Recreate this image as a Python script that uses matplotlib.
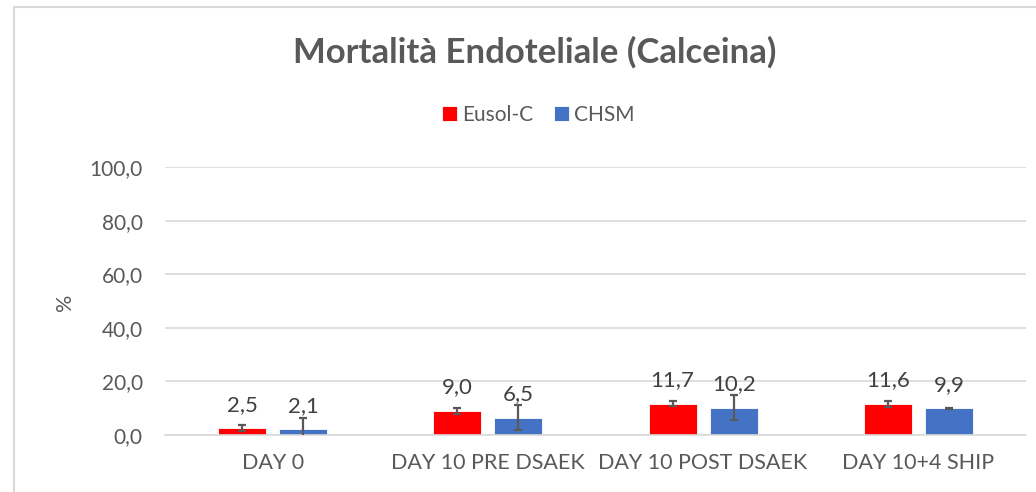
import matplotlib.pyplot as plt
import numpy as np
from matplotlib.patches import Rectangle

plt.rcParams['font.family'] = ['Lato', 'DejaVu Sans']

categories = ["DAY 0", "DAY 10 PRE DSAEK", "DAY 10 POST DSAEK", "DAY 10+4 SHIP"]
series_names = ["Eusol-C", "CHSM"]
eusol = [2.5, 9.0, 11.7, 11.6]
eusol_err = [1.1, 1.0, 1.05, 1.0]
chsm = [2.1, 6.5, 10.2, 9.9]
chsm_err = [4.4, 4.6, 4.6, 0.2]
yticks = [0, 20, 40, 60, 80, 100]

colors = ["#FF0000", "#4472C4"]
text_col = "#595959"
grid_col = "#D9D9D9"

W, H = 1036, 492
fig = plt.figure(figsize=(W / 100, H / 100), dpi=100)

# outer chart frame
fig.patches.append(Rectangle((14 / W, -0.05), 1.2, 1 - 7 / H + 0.05,
                             transform=fig.transFigure, fill=False,
                             edgecolor=grid_col, linewidth=1.5))

ax = fig.add_axes([165 / W, 1 - 435 / H, (1026 - 165) / W, (435 - 167) / H])

x = np.arange(len(categories))
bw = 0.223
off = 0.142
for vals, errs, col, sgn, name in [(eusol, eusol_err, colors[0], -1, series_names[0]),
                                   (chsm, chsm_err, colors[1], 1, series_names[1])]:
    xs = x + sgn * off
    ax.bar(xs, vals, width=bw, color=col, edgecolor="white", linewidth=0.6,
           label=name, zorder=2)
    ax.errorbar(xs, vals, yerr=errs, fmt="none", ecolor="#595959",
                elinewidth=1.6, capsize=3, capthick=1.6, zorder=3)
    for xi, v in zip(xs, vals):
        ax.annotate(f"{v:.1f}".replace(".", ","), (xi, v), xytext=(0, 17),
                    textcoords="offset points", ha="center", va="center",
                    fontsize=16, color="#404040", zorder=4)

ax.set_xlim(-0.5, len(categories) - 0.5)
ax.set_ylim(0, 100)
ax.set_yticks(yticks)
ax.set_yticklabels([f"{t:.1f}".replace(".", ",") for t in yticks])
ax.set_xticks(x)
ax.set_xticklabels(categories)
ax.tick_params(axis="y", length=0, pad=16, labelsize=15, labelcolor=text_col)
ax.tick_params(axis="x", length=0, pad=13, labelsize=15.5, labelcolor=text_col)
ax.yaxis.grid(True, color=grid_col, linewidth=1.2, zorder=0)
ax.set_axisbelow(True)
for s in ["top", "right", "left"]:
    ax.spines[s].set_visible(False)
ax.spines["bottom"].set_color(grid_col)
ax.spines["bottom"].set_linewidth(1.2)

fig.text(65 / W, 1 - 302 / H, "%", rotation=90, ha="center", va="center",
         fontsize=15.5, color=text_col)

fig.text(534.5 / W, 1 - 52 / H, "Mortalità Endoteliale (Calceina)", ha="center",
         va="center", fontsize=25, fontweight="bold", color=text_col)

leg = fig.legend(loc="center", bbox_to_anchor=(538.5 / W, 1 - 115 / H), ncol=2,
                 frameon=False, fontsize=15, handlelength=0.7, handleheight=0.7,
                 handletextpad=0.25, columnspacing=1.0)
for t in leg.get_texts():
    t.set_color(text_col)

fig.savefig("out.png", dpi=100)
